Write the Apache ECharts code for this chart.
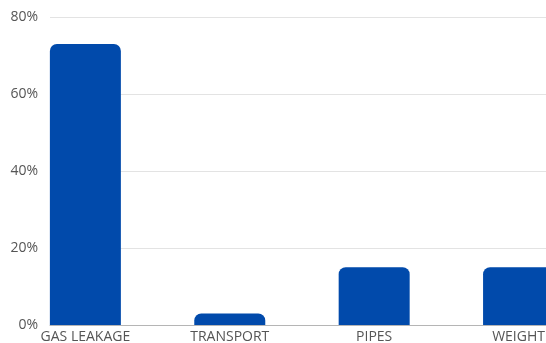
<!DOCTYPE html>
<html>
<head>
<meta charset="utf-8">
<script src="https://cdn.jsdelivr.net/npm/echarts@6/dist/echarts.min.js"></script>
<style>
  html, body { margin: 0; padding: 0; background: #fff; }
  #chart { width: 546px; height: 343px; }
</style>
</head>
<body>
<div id="chart"></div>
<script>
// Share of causes, in percent
const categories = ['GAS LEAKAGE', 'TRANSPORT', 'PIPES', 'WEIGHT'];
const shares = [73, 3, 15, 15];
const yTicks = [0, 20, 40, 60, 80];

const chart = echarts.init(document.getElementById('chart'));
const font = 'Open Sans';

chart.setOption({
  animation: false,
  grid: {
    left: 50, right: 0, top: 17, bottom: 18,
    containLabel: false,
    outerBoundsMode: 'none'
  },
  xAxis: {
    type: 'value',
    min: -0.245,
    max: 3.19,
    splitLine: { show: false },
    axisTick: { show: false },
    axisLine: { show: true, lineStyle: { color: '#b5b5b5', width: 1 } },
    axisLabel: {
      customValues: categories.map((_, i) => i),
      formatter: v => categories[Math.round(v)],
      color: '#555',
      fontFamily: font,
      fontSize: 14,
      margin: 5
    }
  },
  yAxis: {
    type: 'value',
    min: yTicks[0],
    max: yTicks[yTicks.length - 1],
    interval: 20,
    axisLine: { show: false },
    axisTick: { show: false },
    splitLine: { lineStyle: { color: '#e3e3e3', width: 1 } },
    axisLabel: {
      formatter: '{value}%',
      color: '#555',
      fontFamily: font,
      fontSize: 14,
      margin: 12
    }
  },
  series: [{
    type: 'bar',
    data: shares.map((v, i) => [i, v]),
    barWidth: 71,
    itemStyle: { color: '#014aab', borderRadius: [7, 7, 0, 0] }
  }]
});
</script>
</body>
</html>
